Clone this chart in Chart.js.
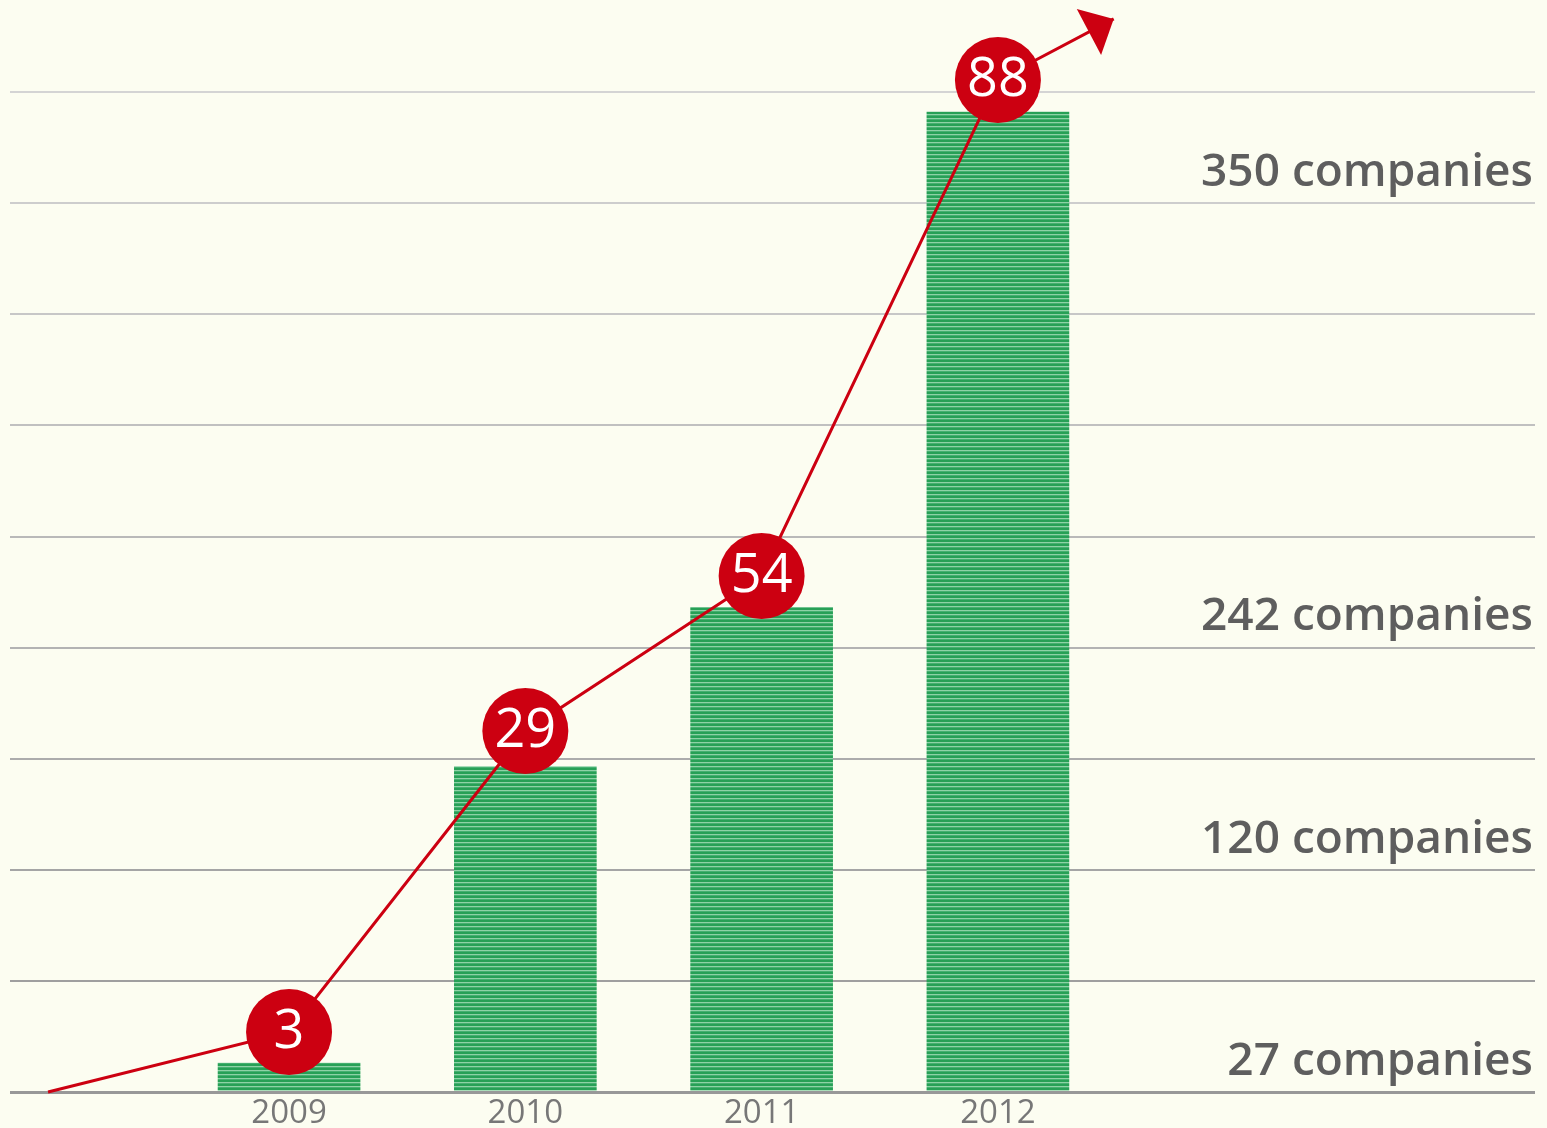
<!DOCTYPE html>
<html>
<head>
<meta charset="utf-8">
<script src="https://cdn.jsdelivr.net/npm/chart.js@4.4.0/dist/chart.umd.min.js"></script>
<style>
  html, body { margin: 0; padding: 0; background: #fcfdf1; }
  #wrap { width: 1547px; height: 1128px; position: relative; }
</style>
</head>
<body>
<div id="wrap"><canvas id="growthChart"></canvas></div>
<script>
// years on the x axis (positions 1..4)
var years = ['2009', '2010', '2011', '2012'];
// bar heights, measured in grid rows
var barHeights = [0.26, 2.93, 4.36, 8.82];
// numbers in the red circles and where they sit
var growthValues = [3, 29, 54, 88];
var growthLevels = [0.54, 3.25, 4.645, 9.11];
// red trend line runs from the baseline out to the arrow tip
var trendStart = { x: -0.02, y: 0 };
var trendEnd = { x: 4.49, y: 9.66 };
// labels on the right and the grid row they sit on
var companyLabels = ['27 companies', '120 companies', '242 companies', '350 companies'];
var companyRows = [0, 2, 4, 8];

var RED = '#cc0011';

/**
 * Striped green fill for the bars
 */
function makeStripes() {
    var c = document.createElement('canvas');
    c.width = 4;
    c.height = 4;
    var g = c.getContext('2d');
    g.fillStyle = '#27a056';
    g.fillRect(0, 0, 4, 4);
    g.fillStyle = '#8ed2a6';
    g.fillRect(0, 2, 4, 1);
    g.fillStyle = '#45b070';
    g.fillRect(0, 3, 4, 1);
    return g.createPattern(c, 'repeat');
}

function gridColor(v) {
    // lighter towards the top
    var t = Math.min(v / 9, 1);
    var c = Math.round(152 + t * (212 - 152));
    return 'rgb(' + c + ',' + c + ',' + c + ')';
}

var barPoints = years.map(function (y, i) { return { x: i + 1, y: barHeights[i] }; });
var linePoints = [trendStart].concat(growthLevels.map(function (v, i) {
    return { x: i + 1, y: v };
})).concat([trendEnd]);

var extras = {
    id: 'extras',
    afterDatasetsDraw: function (chart) {
        var ctx = chart.ctx;
        var meta = chart.getDatasetMeta(1);
        var pts = meta.data;

        // arrow head at the end of the line
        var a = pts[pts.length - 2], b = pts[pts.length - 1];
        var ang = Math.atan2(b.y - a.y, b.x - a.x);
        var len = 28, half = 26;
        ctx.save();
        ctx.fillStyle = RED;
        ctx.beginPath();
        ctx.moveTo(b.x, b.y);
        ctx.lineTo(b.x - len * Math.cos(ang) + half * Math.sin(ang), b.y - len * Math.sin(ang) - half * Math.cos(ang));
        ctx.lineTo(b.x - len * Math.cos(ang) - half * Math.sin(ang), b.y - len * Math.sin(ang) + half * Math.cos(ang));
        ctx.closePath();
        ctx.fill();

        // numbers in the circles
        ctx.fillStyle = '#ffffff';
        ctx.font = '54px "Open Sans"';
        ctx.textAlign = 'center';
        ctx.textBaseline = 'middle';
        growthValues.forEach(function (v, i) {
            var p = pts[i + 1];
            ctx.fillText(String(v), p.x, p.y + 1);
        });

        // company counts on the right
        var ys = chart.scales.y;
        ctx.fillStyle = '#5e5e5e';
        ctx.font = '600 46px "Open Sans"';
        ctx.textAlign = 'right';
        ctx.textBaseline = 'alphabetic';
        companyLabels.forEach(function (t, i) {
            ctx.fillText(t, chart.chartArea.right - 2, ys.getPixelForValue(companyRows[i] + 0.155));
        });
        ctx.restore();
    }
};

var ctx = document.getElementById('growthChart').getContext('2d');
var chart = new Chart(ctx, {
    type: 'bar',
    data: {
        datasets: [{
            type: 'bar',
            data: barPoints,
            backgroundColor: makeStripes(),
            barThickness: 142,
            order: 2
        }, {
            type: 'line',
            data: linePoints,
            borderColor: RED,
            borderWidth: 3,
            pointRadius: [0, 43, 43, 43, 43, 0],
            pointBackgroundColor: RED,
            pointBorderWidth: 0,
            clip: false,
            order: 1
        }]
    },
    options: {
        responsive: true,
        maintainAspectRatio: false,
        animation: false,
        layout: { padding: { left: 10, right: 12, top: 0, bottom: 0 } },
        plugins: {
            legend: { display: false },
            tooltip: { enabled: false }
        },
        scales: {
            x: {
                type: 'linear',
                offset: false,
                min: -0.181,
                max: 6.273,
                grid: { display: false, drawTicks: false, offset: false },
                border: { display: false },
                afterBuildTicks: function (axis) {
                    axis.ticks = years.map(function (y, i) { return { value: i + 1 }; });
                },
                afterFit: function (axis) { axis.height = 36; },
                ticks: {
                    padding: 2,
                    color: '#777777',
                    font: { family: 'Open Sans', size: 33 },
                    maxRotation: 0,
                    callback: function (v) { return years[v - 1]; }
                }
            },
            y: {
                min: 0,
                max: 9.83,
                border: { display: false },
                afterBuildTicks: function (axis) {
                    var t = [];
                    for (var i = 0; i <= 9; i++) t.push({ value: i });
                    axis.ticks = t;
                },
                afterFit: function (axis) { axis.width = 0; },
                ticks: { display: false },
                grid: {
                    drawTicks: false,
                    color: function (c) { return gridColor(c.tick.value); },
                    lineWidth: function (c) { return c.tick.value === 0 ? 3 : 2; }
                }
            }
        }
    },
    plugins: [extras]
});
</script>
</body>
</html>
